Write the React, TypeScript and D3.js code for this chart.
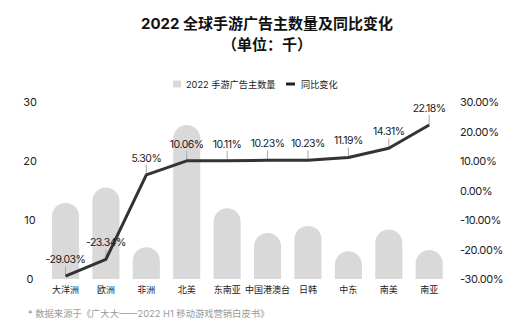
import React from "react";
import * as d3 from "d3";

const categories = ["大洋洲", "欧洲", "非洲", "北美", "东南亚", "中国港澳台", "日韩", "中东", "南美", "南亚"];
const advertisers = [12.9, 15.5, 5.4, 26.1, 12.0, 7.8, 9.0, 4.7, 8.4, 4.9];
const yoy = [-29.03, -23.34, 5.3, 10.06, 10.11, 10.23, 10.23, 11.19, 14.31, 22.18];
const leftTicks = [0, 10, 20, 30];
const rightTicks = [-30, -20, -10, 0, 10, 20, 30];

const W = 530;
const H = 336;
const FONT = "Inter, 'Noto Sans CJK SC', sans-serif";

export default function App() {
  const x = d3
    .scaleBand<string>()
    .domain(categories)
    .range([45.3, 449.4])
    .paddingInner(0.33)
    .paddingOuter(0.165);
  const yL = d3.scaleLinear().domain([0, 30]).range([279, 102]);
  const yR = d3.scaleLinear().domain([-30, 30]).range([279, 102]);
  const bw = x.bandwidth();
  const r = bw / 2;

  const line = d3
    .line<number>()
    .x((_, i) => (x(categories[i]) as number) + bw / 2)
    .y((d) => yR(d));

  const barPath = (c: string, v: number) => {
    const x0 = x(c) as number;
    const yTop = yL(v);
    const yb = yL(0);
    const p = d3.path();
    p.moveTo(x0, yb);
    p.lineTo(x0, yTop + r);
    p.arc(x0 + r, yTop + r, r, Math.PI, 0);
    p.lineTo(x0 + bw, yb);
    p.closePath();
    return p.toString();
  };

  return (
    <svg width={W} height={H} style={{ position: "absolute", left: 0, top: 0, background: "#fff" }} fontFamily={FONT}>
      <text x={267} y={28.5} textAnchor="middle" fontSize={15} fontWeight="bold" fill="#111">
        2022 全球手游广告主数量及同比变化
      </text>
      <text x={267} y={50} textAnchor="middle" fontSize={15} fontWeight="bold" fill="#111">
        （单位：千）
      </text>

      {/* legend */}
      <rect x={173} y={80.5} width={8} height={7} fill="#d9d9d9" />
      <text x={186} y={87.5} fontSize={9.2} fill="#222">2022 手游广告主数量</text>
      <rect x={286} y={82.5} width={9} height={3} fill="#222" />
      <text x={301} y={87.5} fontSize={9.2} fill="#222">同比变化</text>

      {/* left axis */}
      {leftTicks.map((t) => (
        <text key={"l" + t} x={30} y={yL(t) + 4} textAnchor="middle" fontSize={11} fill="#222">
          {t}
        </text>
      ))}
      {/* right axis */}
      {rightTicks.map((t) => (
        <text key={"r" + t} x={460} y={yR(t) + 4} fontSize={11} fill="#222" letterSpacing={-0.4}>
          {t.toFixed(2) + "%"}
        </text>
      ))}

      {/* bars */}
      {categories.map((c, i) => (
        <path key={"b" + c} d={barPath(c, advertisers[i])} fill="#d9d9d9" />
      ))}

      {/* label ticks */}
      {categories.map((c, i) => {
        const cx = (x(c) as number) + bw / 2;
        const cy = yR(yoy[i]);
        return <line key={"t" + c} x1={cx} x2={cx} y1={cy} y2={cy - 10} stroke="#aaa" strokeWidth={1} />;
      })}

      {/* line */}
      <path d={line(yoy) || ""} fill="none" stroke="#333" strokeWidth={3} strokeLinejoin="round" />

      {/* point labels */}
      {categories.map((c, i) => {
        const cx = (x(c) as number) + bw / 2;
        const cy = yR(yoy[i]);
        return (
          <text key={"pl" + c} x={cx} y={cy - 13} textAnchor="middle" fontSize={10.5} fill="#222" letterSpacing={-0.5}>
            {yoy[i].toFixed(2) + "%"}
          </text>
        );
      })}

      {/* category labels */}
      {categories.map((c) => (
        <text key={"c" + c} x={(x(c) as number) + bw / 2} y={292.5} textAnchor="middle" fontSize={9} fill="#222">
          {c}
        </text>
      ))}

      <text x={28} y={317} fontSize={9.3} fill="#999">
        * 数据来源于《广大大——2022 H1 移动游戏营销白皮书》
      </text>
    </svg>
  );
}
